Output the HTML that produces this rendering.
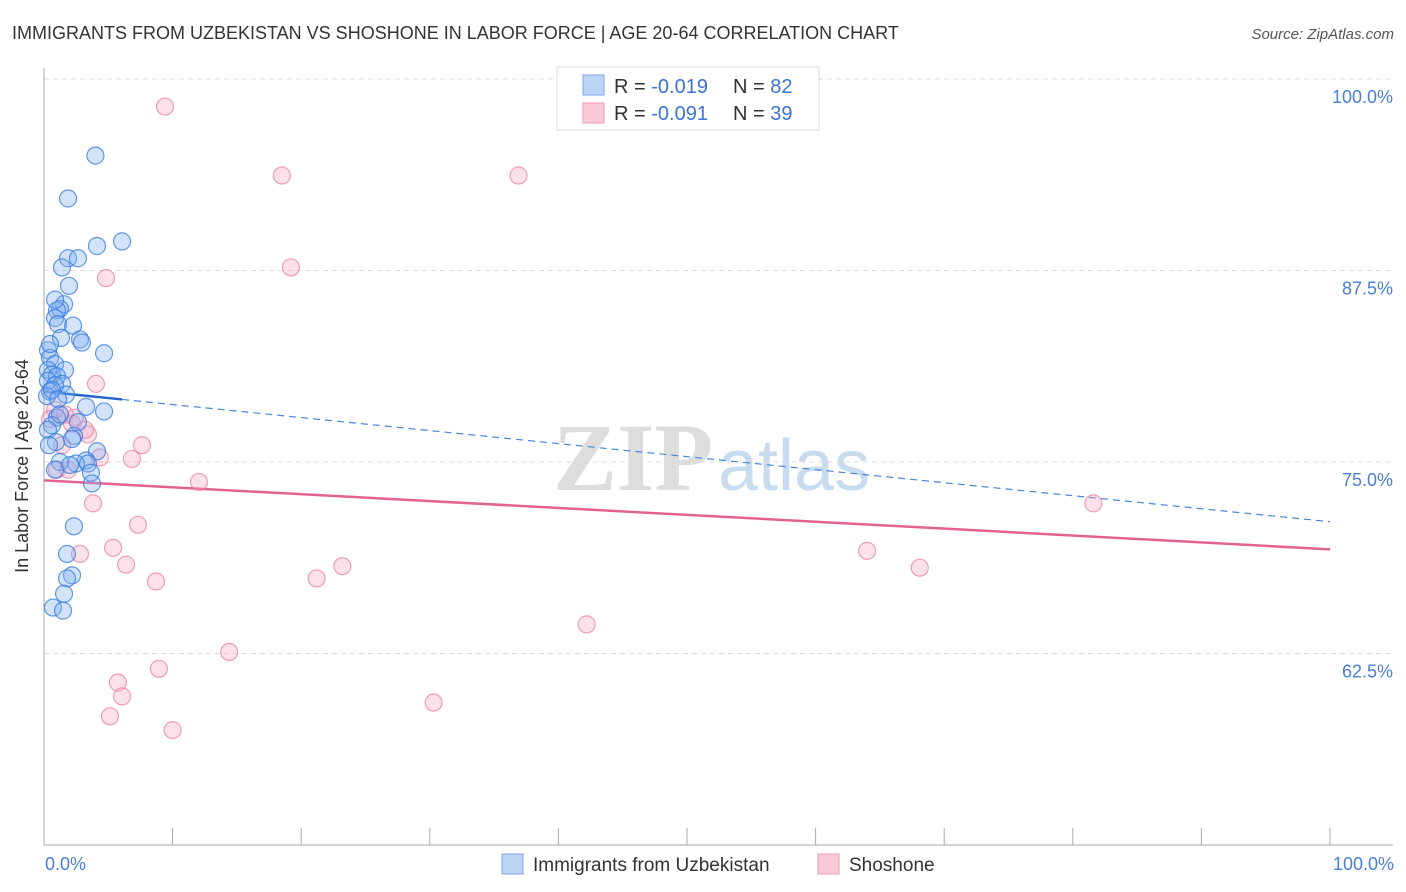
<!DOCTYPE html>
<html><head><meta charset="utf-8"><style>
body{margin:0;background:#fff;font-family:"Liberation Sans",sans-serif}
svg{display:block}
</style></head><body>
<svg id="chart" width="1406" height="892">
<text x="12" y="39" font-size="18" fill="#333">IMMIGRANTS FROM UZBEKISTAN VS SHOSHONE IN LABOR FORCE | AGE 20-64 CORRELATION CHART</text>
<text x="1394" y="39" font-size="15" fill="#555" font-style="italic" text-anchor="end">Source: ZipAtlas.com</text>
<g><text x="553" y="490" font-size="96" fill="#ddd" font-family="Liberation Serif" font-weight="bold">ZIP</text><text x="718" y="490" font-size="72" fill="#c8dcf0">atlas</text></g>
<g id="grid"></g>
<g id="axes"></g>
<g id="lines"></g>
<g id="pts"></g>
<text x="20" y="458" font-size="18" fill="#333" text-anchor="middle" transform="rotate(-90 28 458)">In Labor Force | Age 20-64</text>
<text x="45" y="870" font-size="18" fill="#4a7fd4">0.0%</text>
<text x="1394" y="870" font-size="18" fill="#4a7fd4" text-anchor="end">100.0%</text>
<g>
<rect x="557" y="67" width="262" height="63" fill="#fff" stroke="#ddd"/>
<rect x="583" y="75" width="21" height="20" fill="#bcd4f6" stroke="#7aa6e8"/>
<rect x="583" y="103" width="21" height="20" fill="#f9c9d7" stroke="#ee9ab5"/>
<text x="614" y="93" font-size="20" fill="#333">R = <tspan fill="#3b73d6">-0.019</tspan><tspan x="733">N = </tspan><tspan fill="#3b73d6">82</tspan></text>
<text x="614" y="120" font-size="20" fill="#333">R = <tspan fill="#3b73d6">-0.091</tspan><tspan x="733">N = </tspan><tspan fill="#3b73d6">39</tspan></text>
</g>
<g>
<rect x="502" y="854" width="21" height="20" fill="#bcd4f6" stroke="#7aa6e8"/>
<text x="533" y="871" font-size="19" fill="#333">Immigrants from Uzbekistan</text>
<rect x="818" y="854" width="21" height="20" fill="#f9c9d7" stroke="#ee9ab5"/>
<text x="849" y="871" font-size="19" fill="#333">Shoshone</text>
</g>
</svg>
<script>
const yTicks=[100,87.5,75,62.5];
const yTickLabels=["100.0%","87.5%","75.0%","62.5%"];
const xTicks=[0,10,20,30,40,50,60,70,80,90,100];
const blueX=[4.0,1.87,6.07,4.12,1.87,2.64,1.4,1.94,1.56,1.24,1.01,0.86,1.09,2.26,1.32,2.8,2.95,4.67,0.31,0.47,0.86,0.31,1.63,0.62,1.01,0.31,1.4,0.86,0.47,1.71,0.23,3.27,4.67,1.01,2.64,0.62,0.31,2.33,0.93,0.39,2.18,4.12,3.27,2.49,3.42,1.24,2.02,0.86,3.65,3.73,2.33,1.79,2.18,1.79,1.56,0.7,1.48,0.86,0.47,0.62,1.09,1.24];
const blueY=[95.0,92.2,89.4,89.1,88.3,88.3,87.7,86.5,85.3,85.0,84.9,84.4,84.0,83.9,83.1,83.0,82.8,82.1,82.3,81.8,81.4,81.0,81.0,80.7,80.6,80.3,80.1,80.0,79.6,79.4,79.3,78.6,78.3,77.9,77.6,77.4,77.1,76.7,76.3,76.1,76.5,75.7,75.1,74.9,74.9,75.0,74.8,74.5,74.3,73.6,70.8,69.0,67.6,67.4,66.4,65.5,65.3,85.6,82.7,79.7,79.1,78.1];
const pinkX=[9.41,18.5,36.9,4.82,19.2,4.04,0.86,1.63,0.47,2.18,3.42,1.4,7.62,6.84,4.35,1.01,1.87,12.05,3.81,7.31,81.6,5.37,2.8,6.38,8.71,21.2,23.2,64.0,68.1,42.2,14.4,8.94,5.75,6.07,5.13,30.3,10.0,2.41,3.19];
const pinkY=[98.2,93.7,93.7,87.0,87.7,80.1,78.4,78.1,77.8,77.5,76.8,76.1,76.1,75.2,75.3,74.5,74.5,73.7,72.3,70.9,72.3,69.4,69.0,68.3,67.2,67.4,68.2,69.2,68.1,64.4,62.6,61.5,60.6,59.7,58.4,59.3,57.5,77.9,77.1];
const blueFit=[79.6,-0.085];
const pinkFit=[73.8,-0.045];
const X=v=>44+v*12.86, Y=v=>845-(v-50)*15.32;
const NS="http://www.w3.org/2000/svg";
function mk(t,a,p){const e=document.createElementNS(NS,t);for(const k in a)e.setAttribute(k,a[k]);p.appendChild(e);return e;}
const grid=document.getElementById('grid'),axes=document.getElementById('axes'),lines=document.getElementById('lines'),pts=document.getElementById('pts');
yTicks.forEach((v,i)=>{
 const l=mk('line',{x1:44,x2:1393,y1:Y(v),y2:Y(v),stroke:'#ddd','stroke-dasharray':'5,4'},grid);
 
 
 const t=mk('text',{x:1393,y:Y(v)+24,'font-size':18,fill:'#4a7fd4','text-anchor':'end'},grid);
 t.textContent=yTickLabels[i];
 
 
});
const ya=mk('line',{x1:44,x2:44,y1:68,y2:845,stroke:'#aaa'},axes);


const xa=mk('line',{x1:44,x2:1393,y1:845,y2:845,stroke:'#aaa'},axes);


xTicks.forEach(v=>{
 const t=mk('line',{x1:X(v),x2:X(v),y1:828,y2:845,stroke:'#aaa'},axes);
 
 
});
function pt(x,y,fill,stroke,name){
 const c=mk('circle',{cx:X(x),cy:Y(y),r:8.5,fill:fill,stroke:stroke,'stroke-width':1.2},pts);
 
 
}
pinkX.forEach((x,i)=>pt(x,pinkY[i],'rgba(246,170,196,0.35)','rgba(232,120,160,0.7)','shoshone-point'));
blueX.forEach((x,i)=>pt(x,blueY[i],'rgba(130,175,240,0.35)','rgba(50,120,220,0.75)','uzbekistan-point'));
const bs=mk('line',{x1:X(0),y1:Y(blueFit[0]),x2:X(6.07),y2:Y(blueFit[0]+blueFit[1]*6.07),stroke:'#2266cc','stroke-width':2.5},lines);


const bd=mk('line',{x1:X(6.07),y1:Y(blueFit[0]+blueFit[1]*6.07),x2:X(100),y2:Y(blueFit[0]+blueFit[1]*100),stroke:'#4a85dd','stroke-width':1.2,'stroke-dasharray':'7,5'},lines);


const pl=mk('line',{x1:X(0),y1:Y(pinkFit[0]),x2:X(100),y2:Y(pinkFit[0]+pinkFit[1]*100),stroke:'#e3628f','stroke-width':2.5},lines);


</script>
</body></html>
